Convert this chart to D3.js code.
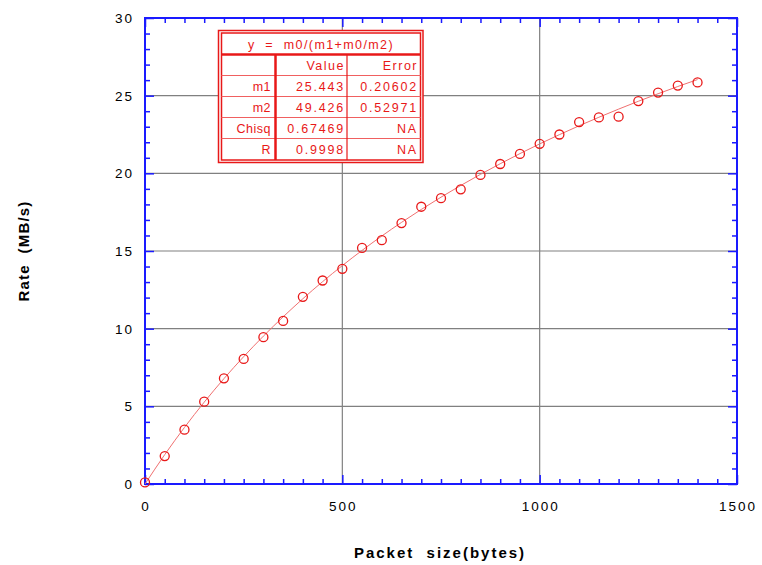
<!DOCTYPE html>
<html>
<head>
<meta charset="utf-8">
<script src="https://cdn.jsdelivr.net/npm/d3@7/dist/d3.min.js"></script>
<style>
  html, body { margin: 0; padding: 0; background: #fff; }
  svg { display: block; font-family: "Liberation Sans", Arial, sans-serif; }
</style>
</head>
<body>
<svg id="chart" width="762" height="565"></svg>
<script>
// ---- data ----
const packetSizes = [0,50,100,150,200,250,300,350,400,450,500,550,600,650,700,750,800,850,900,950,1000,1050,1100,1150,1200,1250,1300,1350,1400];
const rates = [0.1,1.8,3.5,5.3,6.8,8.05,9.45,10.5,12.05,13.1,13.85,15.2,15.7,16.8,17.85,18.4,18.97,19.9,20.6,21.25,21.9,22.5,23.3,23.6,23.65,24.65,25.2,25.65,25.85];
const xTicks = [0,500,1000,1500];
const yTicks = [0,5,10,15,20,25,30];
const fitTitle = "y  =  m0/(m1+m0/m2)";
const tableHeader = ["", "Value", "Error"];
const tableRows = [
  ["m1", "25.443", "0.20602"],
  ["m2", "49.426", "0.52971"],
  ["Chisq", "0.67469", "NA"],
  ["R", "0.9998", "NA"]
];
const m1 = 25.443, m2 = 49.426;

// ---- layout ----
const svg = d3.select("#chart");
const L = 145, R = 737, T = 18, B = 484;
const x = d3.scaleLinear().domain([0,1500]).range([L,R]);
const y = d3.scaleLinear().domain([0,30]).range([B,T]);
const blue = "#1a1aff", red = "#e81818";

// grid
svg.append("g").selectAll("line").data(xTicks.filter(d => d>0 && d<1500)).join("line")
  .attr("x1", d=>x(d)).attr("x2", d=>x(d)).attr("y1", T).attr("y2", B)
  .attr("stroke", "#808080").attr("stroke-width", 1.2);
svg.append("g").selectAll("line").data(yTicks.filter(d => d>0 && d<30)).join("line")
  .attr("x1", L).attr("x2", R).attr("y1", d=>y(d)).attr("y2", d=>y(d))
  .attr("stroke", "#808080").attr("stroke-width", 1.2);

// axes with inward ticks
const xMinor = d3.range(0,1501,50).filter(d => d%500 !== 0);
const yMinor = d3.range(0,31,1).filter(d => d%5 !== 0);
function styleAxis(g){ g.select(".domain").remove(); g.selectAll("line").attr("stroke", blue).attr("stroke-width", 1.5); g.selectAll("text").remove(); }
svg.append("g").attr("transform",`translate(0,${B})`).call(d3.axisBottom(x).tickValues(xMinor).tickSize(-5)).call(styleAxis);
svg.append("g").attr("transform",`translate(0,${B})`).call(d3.axisBottom(x).tickValues(xTicks).tickSize(-9)).call(styleAxis);
svg.append("g").attr("transform",`translate(0,${T})`).call(d3.axisTop(x).tickValues(xMinor).tickSize(-5)).call(styleAxis);
svg.append("g").attr("transform",`translate(0,${T})`).call(d3.axisTop(x).tickValues(xTicks).tickSize(-9)).call(styleAxis);
svg.append("g").attr("transform",`translate(${L},0)`).call(d3.axisLeft(y).tickValues(yMinor).tickSize(-5)).call(styleAxis);
svg.append("g").attr("transform",`translate(${L},0)`).call(d3.axisLeft(y).tickValues(yTicks).tickSize(-9)).call(styleAxis);
svg.append("g").attr("transform",`translate(${R},0)`).call(d3.axisRight(y).tickValues(yMinor).tickSize(-5)).call(styleAxis);
svg.append("g").attr("transform",`translate(${R},0)`).call(d3.axisRight(y).tickValues(yTicks).tickSize(-9)).call(styleAxis);

svg.append("rect").attr("x", L).attr("y", T).attr("width", R-L).attr("height", B-T)
  .attr("fill", "none").attr("stroke", blue).attr("stroke-width", 2);

// tick labels
svg.append("g").selectAll("text").data(xTicks).join("text")
  .attr("x", d=>x(d)+1).attr("y", 511).attr("text-anchor","middle")
  .attr("font-size", 13.5).attr("letter-spacing", 2).attr("fill","#000").text(d=>d);
svg.append("g").selectAll("text").data(yTicks).join("text")
  .attr("x", 134).attr("y", d=>y(d)+5).attr("text-anchor","end")
  .attr("font-size", 13.5).attr("letter-spacing", 2).attr("fill","#000").text(d=>d);

// axis titles
svg.append("text").attr("x", 440).attr("y", 558).attr("text-anchor","middle")
  .attr("font-size", 15).attr("font-weight","bold").attr("letter-spacing", 2)
  .style("white-space","pre").text("Packet  size(bytes)");
svg.append("text").attr("transform","translate(29,251) rotate(-90)").attr("text-anchor","middle")
  .attr("font-size", 15).attr("font-weight","bold").attr("letter-spacing", 1.2)
  .style("white-space","pre").text("Rate  (MB/s)");

// fit curve
const fitLine = d3.line().x(d=>x(d)).y(d=>y(d/(m1 + d/m2))).curve(d3.curveMonotoneX);
svg.append("path").datum(packetSizes).attr("d", fitLine)
  .attr("fill","none").attr("stroke","#f07070").attr("stroke-width",1);

// points
svg.append("g").selectAll("circle").data(packetSizes).join("circle")
  .attr("cx", d=>x(d)).attr("cy", (d,i)=>y(rates[i])).attr("r", 4.5)
  .attr("fill","none").attr("stroke", red).attr("stroke-width", 1.3);

// fit table
const tb = svg.append("g");
const tL = 218.5, tR = 423, tTop = 30.5, tBot = 162.5;
const iL = 221.5, iR = 420.5, iT = 33, iB = 160;
const rowY = [iT, 54.5, 75.5, 96.5, 117.5, 138.5, iB];
const colX = [iL, 275.5, 347, iR];
tb.append("rect").attr("x", tL).attr("y", tTop).attr("width", tR-tL).attr("height", tBot-tTop)
  .attr("fill","#fff").attr("stroke", red).attr("stroke-width", 1.5);
tb.append("rect").attr("x", iL).attr("y", iT).attr("width", iR-iL).attr("height", iB-iT)
  .attr("fill","none").attr("stroke", red).attr("stroke-width", 1.5);
// title separator (thick)
tb.append("line").attr("x1", iL).attr("x2", iR).attr("y1", rowY[1]).attr("y2", rowY[1])
  .attr("stroke", red).attr("stroke-width", 2.5);
// row lines
rowY.slice(2,6).forEach(yy => tb.append("line").attr("x1", iL).attr("x2", iR).attr("y1", yy).attr("y2", yy)
  .attr("stroke", "#f06060").attr("stroke-width", 1));
// column lines
tb.append("line").attr("x1", colX[1]).attr("x2", colX[1]).attr("y1", rowY[1]).attr("y2", iB)
  .attr("stroke", red).attr("stroke-width", 2.5);
tb.append("line").attr("x1", colX[2]).attr("x2", colX[2]).attr("y1", rowY[1]).attr("y2", iB)
  .attr("stroke", red).attr("stroke-width", 1.2);

tb.append("text").attr("x", (iL+iR)/2).attr("y", 48.5).attr("text-anchor","middle")
  .attr("font-size", 12.5).attr("letter-spacing", 1.4).attr("fill", red)
  .style("white-space","pre").text(fitTitle);
const allRows = [tableHeader].concat(tableRows);
const colRight = [271, 345, 418];
allRows.forEach((row, ri) => {
  const cy = (rowY[ri+1] + rowY[ri+2]) / 2 + 4.5;
  row.forEach((cell, ci) => {
    tb.append("text").attr("x", colRight[ci]).attr("y", cy).attr("text-anchor","end")
      .attr("font-size", 12.5).attr("letter-spacing", ri===0 ? 1.5 : (ci===0 ? 0.5 : 1.8)).attr("fill", red)
      .text(cell);
  });
});
</script>
</body>
</html>
